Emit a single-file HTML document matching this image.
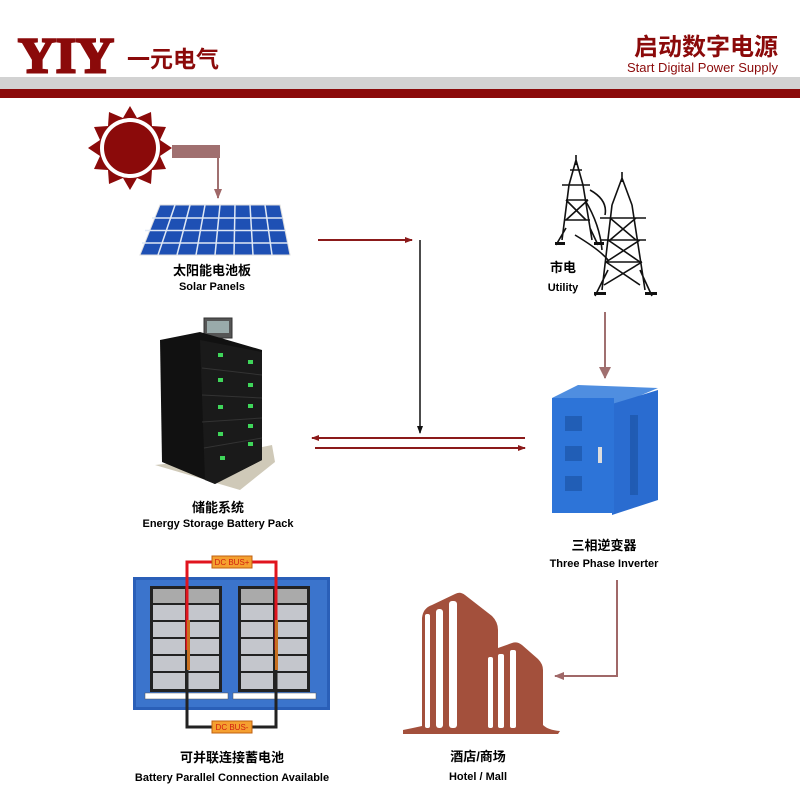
<!DOCTYPE html>
<html><head><meta charset="utf-8"><style>
html,body{margin:0;padding:0;background:#fff}
svg{display:block}
text{font-family:"Liberation Sans","Noto Sans CJK SC",sans-serif}
</style></head><body>
<svg width="800" height="800" viewBox="0 0 800 800" xmlns="http://www.w3.org/2000/svg">
<defs>
<marker id="ar" markerWidth="8" markerHeight="8" refX="7" refY="4" orient="auto" markerUnits="userSpaceOnUse"><path d="M0,1 L8,4 L0,7 Z" fill="#8b1a1a"/></marker>
<marker id="ab" markerWidth="8" markerHeight="8" refX="7" refY="4" orient="auto" markerUnits="userSpaceOnUse"><path d="M0,1 L8,4 L0,7 Z" fill="#111"/></marker>
<marker id="ap" markerWidth="10" markerHeight="10" refX="9" refY="5" orient="auto" markerUnits="userSpaceOnUse"><path d="M0,1 L10,5 L0,9 Z" fill="#a06868"/></marker>
<marker id="ag" markerWidth="12" markerHeight="12" refX="11" refY="6" orient="auto" markerUnits="userSpaceOnUse"><path d="M0,0 L12,6 L0,12 Z" fill="#a07070"/></marker>
</defs>
<!-- header -->
<text x="18" y="72" font-size="50" fill="#8b0a0a" style="font-family:'Liberation Serif',serif;font-weight:900" stroke="#8b0a0a" stroke-width="2.5" textLength="96" lengthAdjust="spacingAndGlyphs">YIY</text>
<text x="127" y="67" font-weight="bold" font-size="23" fill="#8b0a0a">一元电气</text>
<text x="778" y="55" text-anchor="end" font-weight="bold" font-size="24" fill="#8b0a0a">启动数字电源</text>
<text x="778" y="72" text-anchor="end" font-size="13" fill="#8b0a0a">Start Digital Power Supply</text>
<rect x="0" y="77" width="800" height="12" fill="#d2d2d2"/>
<rect x="0" y="89" width="800" height="9" fill="#8b0a0a"/>
<!-- sun -->
<g transform="translate(130,148)">
<polygon fill="#8b0a0a" points="0,-42 7,-30 21,-36 22,-22 36,-21 30,-8 42,0 30,8 36,21 22,22 21,36 7,30 0,42 -7,30 -21,36 -22,22 -36,21 -30,8 -42,0 -30,-8 -36,-21 -22,-22 -21,-36 -7,-30"/>
<circle r="30" fill="#fff"/><circle r="26" fill="#8b0a0a"/>
</g>
<path d="M172,145 H220 V158 H172 Z" fill="#a07070"/>
<line x1="218" y1="158" x2="218" y2="198" stroke="#a07070" stroke-width="2" marker-end="url(#ap)"/>
<!-- solar panel -->
<polygon points="160,205 280,205 290,255 140,255" fill="#1e50b4" stroke="#ddd" stroke-width="1"/>
<g stroke="#dfe8f5" stroke-width="1.5">
<line x1="145" y1="230.5" x2="285" y2="230.5"/><line x1="152" y1="218" x2="282" y2="218"/><line x1="142" y1="243" x2="288" y2="243"/>
<line x1="175" y1="205" x2="158" y2="255"/><line x1="190" y1="205" x2="177" y2="255"/><line x1="205" y1="205" x2="196" y2="255"/><line x1="220" y1="205" x2="215" y2="255"/><line x1="235" y1="205" x2="234" y2="255"/><line x1="250" y1="205" x2="253" y2="255"/><line x1="265" y1="205" x2="272" y2="255"/>
</g>
<text x="212" y="275" text-anchor="middle" font-weight="bold" font-size="13">太阳能电池板</text>
<text x="212" y="290" text-anchor="middle" font-weight="bold" font-size="11">Solar Panels</text>
<!-- arrows center -->
<line x1="318" y1="240" x2="412" y2="240" stroke="#8b1a1a" stroke-width="2" marker-end="url(#ar)"/>
<line x1="420" y1="240" x2="420" y2="433" stroke="#111" stroke-width="1.5" marker-end="url(#ab)"/>
<line x1="525" y1="438" x2="312" y2="438" stroke="#8b1a1a" stroke-width="2" marker-end="url(#ar)"/>
<line x1="315" y1="448" x2="525" y2="448" stroke="#8b1a1a" stroke-width="2" marker-end="url(#ar)"/>
<!-- battery cabinet -->
<polygon points="155,465 240,490 275,462 272,445 200,460" fill="#cfc9b8"/>
<rect x="204" y="318" width="28" height="20" fill="#555" stroke="#333"/>
<rect x="207" y="321" width="22" height="12" fill="#9aa"/>
<polygon points="160,340 200,332 262,350 262,460 215,484 162,462" fill="#111"/>
<polygon points="200,340 262,352 262,460 215,484 205,480" fill="#1a1a1a"/>
<g fill="#3fd65a">
<rect x="218" y="353" width="5" height="4"/><rect x="248" y="360" width="5" height="4"/>
<rect x="218" y="378" width="5" height="4"/><rect x="248" y="383" width="5" height="4"/>
<rect x="218" y="405" width="5" height="4"/><rect x="248" y="404" width="5" height="4"/>
<rect x="218" y="432" width="5" height="4"/><rect x="248" y="424" width="5" height="4"/>
<rect x="220" y="456" width="5" height="4"/><rect x="248" y="442" width="5" height="4"/>
</g>
<g stroke="#333" stroke-width="1">
<line x1="202" y1="368" x2="262" y2="375"/><line x1="202" y1="395" x2="262" y2="398"/><line x1="202" y1="422" x2="262" y2="418"/><line x1="204" y1="448" x2="262" y2="438"/>
</g>
<text x="218" y="512" text-anchor="middle" font-weight="bold" font-size="13">储能系统</text>
<text x="218" y="527" text-anchor="middle" font-weight="bold" font-size="11">Energy Storage Battery Pack</text>
<!-- utility towers -->
<g stroke="#111" stroke-width="1.6" fill="none">
<path d="M576,155 L576,165 M569,185 L576,160 L583,185 M569,185 L562,240 M583,185 L592,240 M556,245 L566,228 M598,245 L590,228 M566,200 L588,200 M562,185 L590,185 M566,200 L586,220 M588,200 L566,220 M565,220 L590,220 M570,170 L582,170"/>
<path d="M622,172 L622,182 M612,205 L622,178 L632,205 M612,205 L602,290 M632,205 L645,290 M595,296 L608,270 M652,296 L640,270 M600,218 L646,218 M600,240 L646,240 M610,218 L636,240 M636,218 L610,240 M608,240 L640,262 M640,240 L606,262 M606,262 L642,262 M606,262 L640,285 M642,262 L604,285"/>
<path d="M590,190 Q608,200 605,215 M585,200 Q600,225 602,250 M575,235 Q600,250 608,260"/>
</g>
<g fill="#111"><rect x="594" y="292" width="12" height="3"/><rect x="645" y="292" width="12" height="3"/><rect x="555" y="242" width="10" height="3"/><rect x="594" y="242" width="10" height="3"/></g>
<text x="563" y="272" text-anchor="middle" font-weight="bold" font-size="13">市电</text>
<text x="563" y="291" text-anchor="middle" font-weight="bold" font-size="11">Utility</text>
<line x1="605" y1="312" x2="605" y2="378" stroke="#a07070" stroke-width="2" marker-end="url(#ag)"/>
<!-- inverter -->
<polygon points="552,398 578,385 658,388 618,405" fill="#4f8ee0"/>
<polygon points="612,404 658,390 658,500 612,515" fill="#2a6cd0"/>
<rect x="552" y="398" width="62" height="115" fill="#2d74d8"/>
<g fill="#1d55a8" opacity="0.7"><rect x="565" y="416" width="17" height="15"/><rect x="565" y="446" width="17" height="15"/><rect x="565" y="476" width="17" height="15"/><rect x="630" y="415" width="8" height="80"/></g>
<rect x="598" y="447" width="4" height="16" fill="#ddd"/>
<text x="604" y="550" text-anchor="middle" font-weight="bold" font-size="13">三相逆变器</text>
<text x="604" y="567" text-anchor="middle" font-weight="bold" font-size="11">Three Phase Inverter</text>
<polyline points="617,580 617,676 555,676" fill="none" stroke="#a06868" stroke-width="2" marker-end="url(#ap)"/>
<!-- building -->
<path fill="#a3503c" d="M403,730 Q413,728 422,726 L422,618 Q423,608 432,605 L455,594 Q460,591 465,595 L492,616 Q498,622 498,630 L498,648 L512,643 Q517,641 522,645 L538,659 Q543,664 543,670 L543,725 Q548,730 560,731 L558,734 L403,734 Z"/>
<g fill="#fff">
<rect x="425" y="614" width="5" height="114" rx="2"/>
<rect x="436" y="609" width="7" height="119" rx="3"/>
<rect x="449" y="601" width="8" height="127" rx="3"/>
<rect x="488" y="657" width="5" height="71" rx="2"/>
<rect x="498" y="654" width="6" height="74" rx="2"/>
<rect x="510" y="650" width="6" height="78" rx="2"/>
</g>
<text x="478" y="761" text-anchor="middle" font-weight="bold" font-size="13">酒店/商场</text>
<text x="478" y="780" text-anchor="middle" font-weight="bold" font-size="11">Hotel / Mall</text>
<!-- battery parallel -->
<rect x="133" y="577" width="197" height="133" fill="#2a5fb8"/>
<rect x="136" y="580" width="191" height="127" fill="#3b74cc"/>
<g id="rack">
<rect x="150" y="586" width="72" height="106" fill="#222"/>
<rect x="153" y="589" width="32" height="14" fill="#aaa"/><rect x="187" y="589" width="32" height="14" fill="#aaa"/>
<g fill="#c4c6cc">
<rect x="153" y="605" width="32" height="15"/><rect x="187" y="605" width="32" height="15"/>
<rect x="153" y="622" width="32" height="15"/><rect x="187" y="622" width="32" height="15"/>
<rect x="153" y="639" width="32" height="15"/><rect x="187" y="639" width="32" height="15"/>
<rect x="153" y="656" width="32" height="15"/><rect x="187" y="656" width="32" height="15"/>
<rect x="153" y="673" width="32" height="16"/><rect x="187" y="673" width="32" height="16"/>
</g>
<rect x="145" y="693" width="83" height="6" fill="#fff" stroke="#555" stroke-width="0.5"/>
</g>
<use href="#rack" x="88"/>
<polyline points="187,689 187,562 276,562 276,689" fill="none" stroke="#e0141e" stroke-width="3"/>
<polyline points="187,650 187,727 276,727 276,650" fill="none" stroke="#222" stroke-width="3"/>
<rect x="187" y="620" width="3" height="50" fill="#c87020"/><rect x="275" y="620" width="3" height="50" fill="#c87020"/>
<rect x="212" y="556" width="40" height="12" fill="#f5a030" stroke="#c06010"/>
<text x="232" y="565" text-anchor="middle" font-size="8" fill="#d02010">DC BUS+</text>
<rect x="212" y="721" width="40" height="12" fill="#f5a030" stroke="#c06010"/>
<text x="232" y="730" text-anchor="middle" font-size="8" fill="#d02010">DC BUS-</text>
<text x="232" y="762" text-anchor="middle" font-weight="bold" font-size="13">可并联连接蓄电池</text>
<text x="232" y="781" text-anchor="middle" font-weight="bold" font-size="11">Battery Parallel Connection Available</text>
</svg>
</body></html>
